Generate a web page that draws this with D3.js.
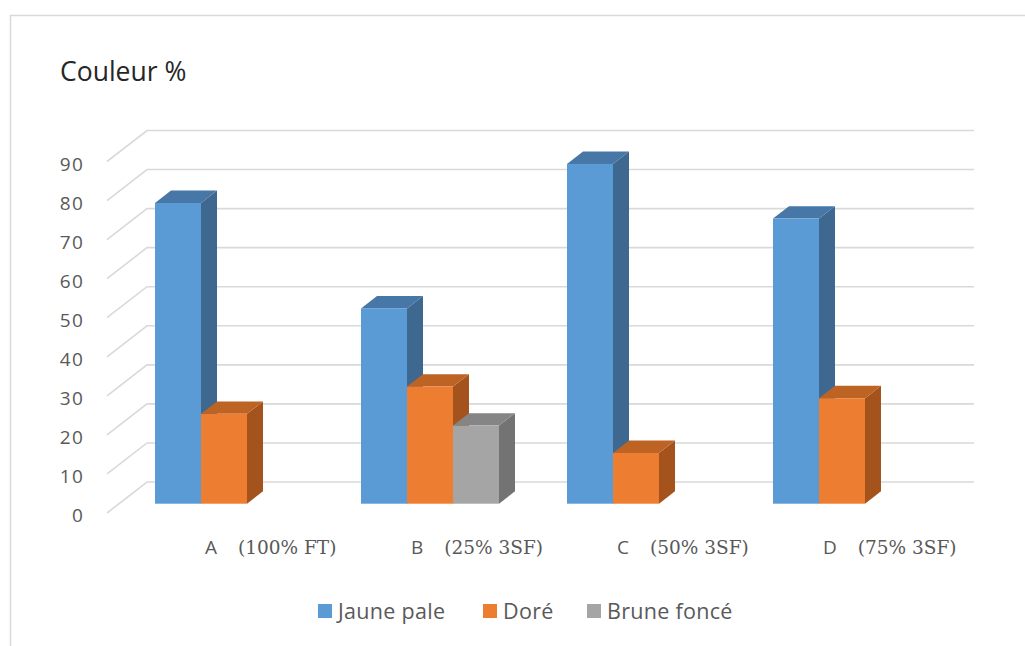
<!DOCTYPE html>
<html>
<head>
<meta charset="utf-8">
<script src="https://cdn.jsdelivr.net/npm/d3@7"></script>
<style>
  html, body { margin: 0; padding: 0; background: #fff; }
  svg { display: block; }
</style>
</head>
<body>
<svg id="chart" width="1025" height="646"></svg>
<script>
// Chart data
const categories = ["A", "B", "C", "D"];
const categoryNotes = ["(100% FT)", "(25% 3SF)", "(50% 3SF)", "(75% 3SF)"];
const seriesNames = ["Jaune pale", "Doré", "Brune foncé"];
const jaunePale = [77, 50, 87, 73];
const dore = [23, 30, 13, 27];
const bruneFonce = [null, 20, null, null];
const yTicks = [0, 10, 20, 30, 40, 50, 60, 70, 80, 90];
const chartTitle = "Couleur %";

const seriesValues = [jaunePale, dore, bruneFonce];

// Face colours per series: front, side, top
const palette = [
  { front: "#5B9BD5", side: "#3E6890", top: "#4677A6" },
  { front: "#ED7D31", side: "#A5531D", top: "#BD6324" },
  { front: "#A5A5A5", side: "#737373", top: "#858585" }
];

const svg = d3.select("#chart");

// Outer chart frame
svg.append("rect")
  .attr("x", 10.5).attr("y", 15.5)
  .attr("width", 1100).attr("height", 700)
  .attr("fill", "#fff").attr("stroke", "#d9d9d9").attr("stroke-width", 1.5);

// Oblique projection: x along the front plane, z = depth (0 front .. 1 back)
const floorFront = 513;         // y of value 0 on the front edge of the floor
const depthX = 40, depthY = 31; // full depth offset of the floor
const plotLeft = 107;           // front-left corner of the floor
const plotRight = 934;          // front-right corner of the floor

const h = d3.scaleLinear().domain([0, 90]).range([0, 351.5]);
const proj = (x, v, z) => [x + z * depthX, floorFront - h(v) - z * depthY];

// Bars occupy the middle slice of the depth
const zFront = 0.3, zBack = 0.7;
const barPlaneLeft = plotLeft + zFront * depthX;

const x0 = d3.scaleBand()
  .domain(categories)
  .range([barPlaneLeft, barPlaneLeft + 4 * 206])
  .paddingInner(0).paddingOuter(0);
const x1 = d3.scaleBand()
  .domain(d3.range(seriesNames.length))
  .range([36, 36 + 3 * 46]);

// Gridlines: back wall lines and left wall diagonals
const grid = svg.append("g");
yTicks.forEach(v => {
  const a = proj(plotLeft, v, 0), b = proj(plotLeft, v, 1), c = proj(plotRight, v, 1);
  grid.append("path")
    .attr("d", `M${a[0]},${a[1]}L${b[0]},${b[1]}L${c[0]},${c[1]}`)
    .attr("fill", "none").attr("stroke", "#d9d9d9").attr("stroke-width", 1.6);
});

// Y tick labels
svg.append("g").selectAll("text").data(yTicks).join("text")
  .attr("x", 84)
  .attr("y", d => proj(plotLeft, d, 0)[1] + 4)
  .attr("text-anchor", "end")
  .attr("dominant-baseline", "middle")
  .attr("font-family", "'Open Sans', sans-serif")
  .attr("font-size", 19)
  .attr("letter-spacing", 1.2)
  .attr("fill", "#595959")
  .text(d => d);

// 3D bars
const bars = [];
categories.forEach((cat, ci) => {
  seriesValues.forEach((vals, si) => {
    const v = vals[ci];
    if (v == null) return;
    const xl = x0(cat) + x1(si) - zFront * depthX;  // front-plane x at z = 0
    bars.push({ cat, si, v, xl, xr: xl + x1.bandwidth() });
  });
});

const barG = svg.append("g");
bars.forEach(b => {
  const c = palette[b.si];
  const p = (x, v, z) => proj(x, v, z).join(",");
  const g = barG.append("g");
  // side face
  g.append("path")
    .attr("d", `M${p(b.xr, 0, zFront)}L${p(b.xr, 0, zBack)}L${p(b.xr, b.v, zBack)}L${p(b.xr, b.v, zFront)}Z`)
    .attr("fill", c.side);
  // top face
  g.append("path")
    .attr("d", `M${p(b.xl, b.v, zFront)}L${p(b.xl, b.v, zBack)}L${p(b.xr, b.v, zBack)}L${p(b.xr, b.v, zFront)}Z`)
    .attr("fill", c.top);
  // front face
  const f0 = proj(b.xl, b.v, zFront), f1 = proj(b.xr, 0, zFront);
  g.append("rect")
    .attr("x", f0[0]).attr("y", f0[1])
    .attr("width", f1[0] - f0[0]).attr("height", f1[1] - f0[1])
    .attr("fill", c.front);
});

// Category labels
const catG = svg.append("g");
categories.forEach((cat, i) => {
  const t = catG.append("text")
    .attr("x", x0(cat) + 86)
    .attr("y", 554)
    .attr("fill", "#595959");
  t.append("tspan")
    .attr("font-family", "'Open Sans', sans-serif")
    .attr("font-size", 19)
    .text(cat);
  t.append("tspan")
    .attr("dx", 21)
    .attr("font-family", "'DejaVu Serif', serif")
    .attr("font-size", 18.5)
    .text(categoryNotes[i]);
});

// Title
svg.append("text")
  .attr("x", 60).attr("y", 81)
  .attr("font-family", "'Open Sans', sans-serif")
  .attr("font-size", 26.5)
  .attr("fill", "#262626")
  .text(chartTitle);

// Legend
const legendX = [318, 483, 587];
const legend = svg.append("g");
seriesNames.forEach((name, i) => {
  legend.append("rect")
    .attr("x", legendX[i]).attr("y", 604)
    .attr("width", 14).attr("height", 14)
    .attr("fill", palette[i].front);
  legend.append("text")
    .attr("x", legendX[i] + 20).attr("y", 619)
    .attr("font-family", "'Open Sans', sans-serif")
    .attr("font-size", 21.5)
    .attr("letter-spacing", 0.3)
    .attr("fill", "#595959")
    .text(name);
});
</script>
</body>
</html>
